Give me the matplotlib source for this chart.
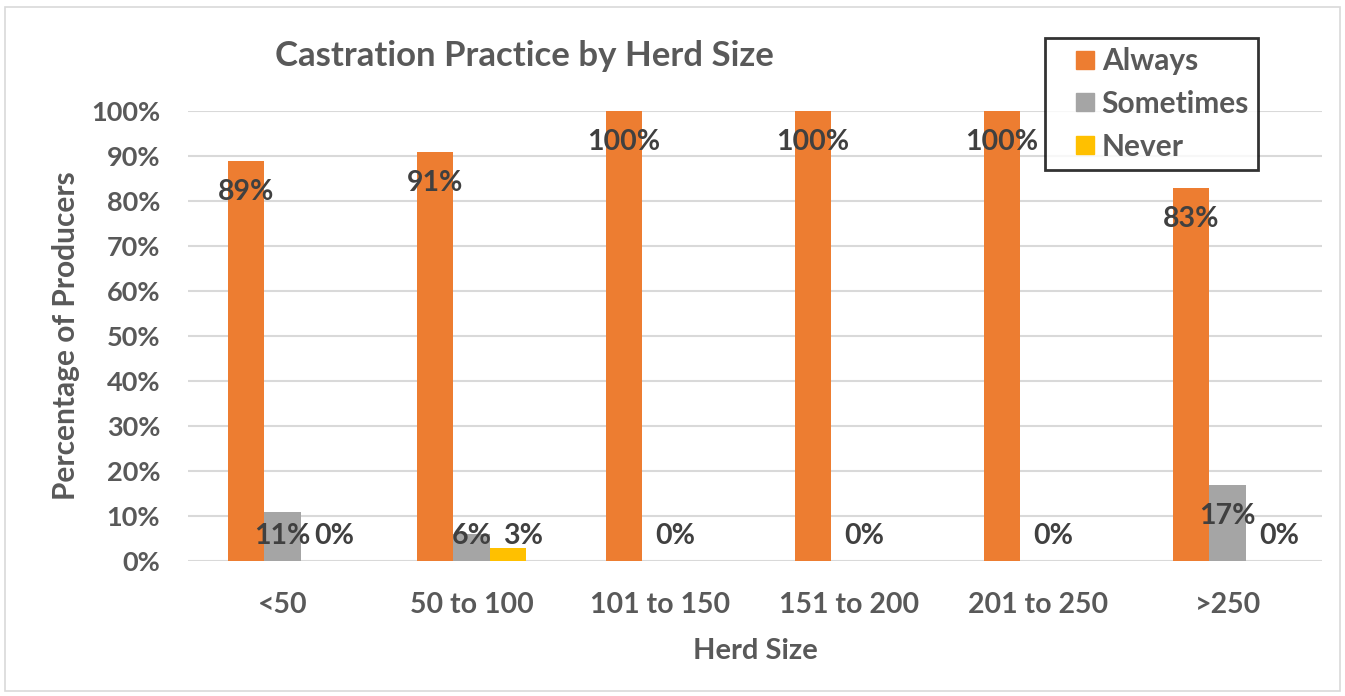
#
# castration.py - Grouped bar chart of castration practice split by herd size.
#
import numpy as np
import matplotlib.pyplot as plt
from matplotlib.patches import Rectangle
from matplotlib.lines import Line2D

# Herd size groups and the share of producers (percent) in each answer
herd_sizes = ['<50', '50 to 100', '101 to 150', '151 to 200', '201 to 250', '>250']
always = [89, 91, 100, 100, 100, 83]
sometimes = [11, 6, 0, 0, 0, 17]
never = [0, 3, np.nan, np.nan, np.nan, 0]

series_names = ['Always', 'Sometimes', 'Never']
colours = ['#ED7D31', '#A5A5A5', '#FFC000']

plt.rcParams['font.family'] = ['Lato', 'DejaVu Sans']
plt.rcParams['font.weight'] = 'bold'
txt = '#595959'

fig = plt.figure(figsize=(13.45, 6.96), dpi=100)
W, H = 1345, 696
ax = fig.add_axes([188 / W, 1 - 561 / H, (1322 - 188) / W, (561 - 111) / H])

# Light border round the whole chart
fig.patches.append(Rectangle((5 / W, 5 / H), 1 - 10 / W, 1 - 12 / H, transform=fig.transFigure,
                             fill=False, edgecolor='#D9D9D9', linewidth=1.2))

x = np.arange(len(herd_sizes))
w = 0.193
for k, (vals, name, col) in enumerate(zip([always, sometimes, never], series_names, colours)):
    pos = x + (k - 1) * w
    ax.bar(pos, np.nan_to_num(vals), width=w, color=col, label=name, zorder=3)
    for px, v in zip(pos, vals):
        if np.isnan(v):
            continue
        # Excel-style "inside end" labels, pushed up and across for tiny bars
        ly = max(v - 7, 5.5)
        lx = px + (0.08 if v < 5 else 0)
        ax.text(lx, ly, f'{v:.0f}%', ha='center', va='center', fontsize=20.5,
                color='#404040', fontweight='bold', zorder=4)

ax.set_xlim(-0.5, len(herd_sizes) - 0.5)
ax.set_ylim(0, 100)
ax.set_yticks(range(0, 101, 10))
ax.set_yticklabels([f'{t}%' for t in range(0, 101, 10)])
ax.set_xticks(x)
ax.set_xticklabels(herd_sizes)
ax.tick_params(axis='both', length=0, labelsize=19.5, labelcolor=txt)
ax.tick_params(axis='x', labelsize=20.5, pad=22)
ax.tick_params(axis='y', pad=20)
for s in ax.spines.values():
    s.set_visible(False)
ax.grid(axis='y', color='#D9D9D9', linewidth=1.5, zorder=0)
ax.set_axisbelow(True)

ax.set_ylabel('Percentage of Producers', fontsize=21.5, color=txt, fontweight='bold', labelpad=8)
ax.set_xlabel('Herd Size', fontsize=21, color=txt, fontweight='bold', labelpad=15)
fig.text(275 / W, 1 - 56 / H, 'Castration Practice by Herd Size', fontsize=25, color=txt,
         fontweight='bold', ha='left', va='center')

# Square swatches for the legend
handles = [Line2D([], [], linestyle='none', marker='s', markersize=12.5, color=c) for c in colours]
leg = fig.legend(handles, series_names, loc='upper left', bbox_to_anchor=(1045 / W, 1 - 38 / H),
                 fontsize=21.5, frameon=True, fancybox=False, edgecolor='black',
                 handlelength=2.05, handletextpad=-0.45, labelspacing=0.5, borderpad=0.3,
                 borderaxespad=0)
leg.get_frame().set_linewidth(2)
for t in leg.get_texts():
    t.set_color(txt)

plt.savefig('out.png')
